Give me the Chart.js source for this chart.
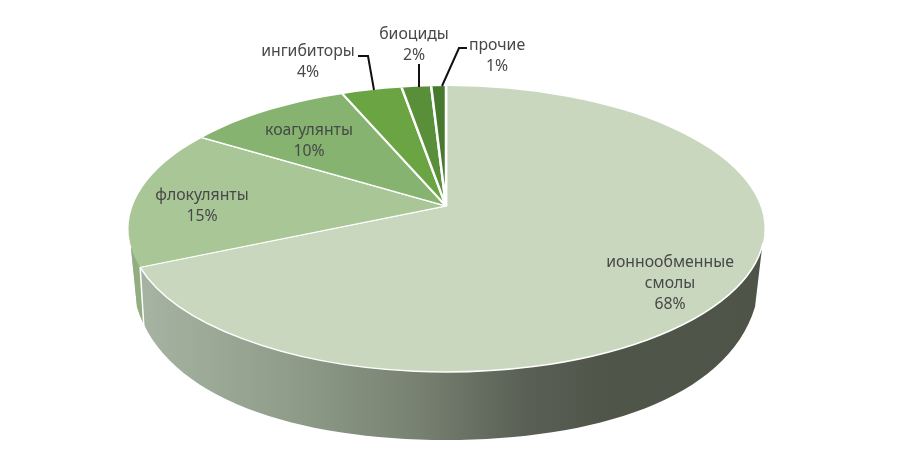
<!DOCTYPE html>
<html>
<head>
<meta charset="utf-8">
<style>
  html, body { margin: 0; padding: 0; background: #fff; }
  canvas { display: block; }
</style>
<script src="https://cdn.jsdelivr.net/npm/chart.js@4"></script>
</head>
<body>
<canvas id="pie" width="914" height="472"></canvas>
<script>
const categories = ['ионнообменные смолы', 'флокулянты', 'коагулянты', 'ингибиторы', 'биоциды', 'прочие'];
const shares = [68, 15, 10, 4, 2, 1];
const sliceColors = ['#c8d7bd', '#a9c697', '#86b36f', '#6ba543', '#5a8f3a', '#477a2e'];

// layout of the tilted disc, in page pixels
const apex = { x: 446, y: 206 };
const face = { x: 446.5, y: 229, rx: 318, ry: 143 };
const spread = 1.8;        // arcs are drawn oversize, the face ellipse trims them
const tiltBack = 0.51;     // vertical squash behind the apex
const tiltFront = 0.426;   // and in front of it (fake perspective)

// centre x, first baseline y of each label
const labelAnchors = [[670, 262], [202, 195], [309, 130], [308, 51], [414, 34], [497, 45]];
const labelLineGap = 21;
const leaders = [
  null, null, null,
  [[358, 56], [368, 56], [374, 90]],
  [[419, 64], [419, 87]],
  [[467, 48], [459, 48], [442, 86]]
];

function faceClip(ctx) {
  ctx.beginPath();
  ctx.ellipse(face.x, face.y, face.rx, face.ry, 0, 0, Math.PI * 2);
  ctx.clip();
}

// where a slice boundary (chart angle) hits the face outline
function rimPoint(angle, tilt) {
  const dx = Math.cos(angle) * spread;
  const dy = Math.sin(angle) * spread * tilt;
  const ox = (apex.x - face.x) / face.rx, oy = (apex.y - face.y) / face.ry;
  const ux = dx / face.rx, uy = dy / face.ry;
  const a = ux * ux + uy * uy, b = 2 * (ox * ux + oy * uy), c = ox * ox + oy * oy - 1;
  const t = (-b + Math.sqrt(b * b - 4 * a * c)) / (2 * a);
  return { x: apex.x + dx * t, y: apex.y + dy * t };
}

function wallPath(ctx) {
  ctx.beginPath();
  ctx.moveTo(131, 248);
  ctx.lineTo(137, 307);
  ctx.bezierCurveTo(165, 400, 300, 440, 446, 440);
  ctx.bezierCurveTo(592, 440, 727, 400, 755, 307);
  ctx.lineTo(762, 248);
  ctx.closePath();
}

function drawWall(chart) {
  const ctx = chart.ctx;
  const grad = ctx.createLinearGradient(130, 0, 764, 0);
  grad.addColorStop(0, '#a8b5a4');
  grad.addColorStop(0.25, '#8f9d8a');
  grad.addColorStop(0.45, '#788272');
  grad.addColorStop(0.62, '#5a6055');
  grad.addColorStop(0.75, '#50554a');
  grad.addColorStop(1, '#4f5449');
  wallPath(ctx);
  ctx.fillStyle = grad;
  ctx.fill();

  // the green slice shows a sliver of wall at the far left
  const arc = chart.getDatasetMeta(0).data[0];
  const edge = rimPoint(arc.endAngle, tiltFront);
  ctx.save();
  wallPath(ctx);
  ctx.clip();
  ctx.beginPath();
  ctx.moveTo(100, 230);
  ctx.lineTo(edge.x, 230);
  ctx.lineTo(edge.x, edge.y);
  ctx.lineTo(edge.x + 4, edge.y + 64);
  ctx.lineTo(100, edge.y + 64);
  ctx.closePath();
  ctx.fillStyle = '#91ae80';
  ctx.fill();
  ctx.restore();

  ctx.beginPath();
  ctx.moveTo(edge.x, edge.y);
  ctx.lineTo(edge.x + 4, edge.y + 64);
  ctx.strokeStyle = '#ffffff';
  ctx.lineWidth = 1.5;
  ctx.stroke();
  return edge;
}

function drawSlices(chart, clipY0, clipY1, tilt) {
  const ctx = chart.ctx;
  ctx.save();
  faceClip(ctx);
  ctx.beginPath();
  ctx.rect(0, clipY0, chart.width, clipY1 - clipY0);
  ctx.clip();
  const cx = chart.width / 2, cy = chart.height / 2;
  ctx.translate(apex.x, apex.y);
  ctx.scale(spread, spread * tilt);
  ctx.translate(-cx, -cy);
  chart.getDatasetMeta(0).controller.draw();
  ctx.restore();
}

function drawLabels(chart) {
  const ctx = chart.ctx;
  ctx.font = '15.8px "Noto Sans"';
  ctx.fillStyle = '#484848';
  ctx.textAlign = 'center';
  ctx.textBaseline = 'alphabetic';
  categories.forEach((name, i) => {
    const [x, y] = labelAnchors[i];
    const lines = name.split(' ').concat(shares[i] + '%');
    lines.forEach((line, n) => ctx.fillText(line, x, y + 5 + n * labelLineGap));
  });

  ctx.strokeStyle = '#111111';
  ctx.lineWidth = 2;
  leaders.forEach(points => {
    if (!points) return;
    ctx.beginPath();
    points.forEach(([x, y], n) => n ? ctx.lineTo(x, y) : ctx.moveTo(x, y));
    ctx.stroke();
  });
}

const tiltedPie = {
  id: 'tiltedPie',
  beforeDatasetsDraw(chart) {
    const ctx = chart.ctx;
    const edge = drawWall(chart);
    drawSlices(chart, 0, apex.y, tiltBack);
    drawSlices(chart, apex.y, chart.height, tiltFront);
    // white rim only along the front of the big slice
    const endParam = Math.atan2((edge.y - face.y) / face.ry, (edge.x - face.x) / face.rx);
    ctx.beginPath();
    ctx.ellipse(face.x, face.y, face.rx, face.ry, 0, 0.1, endParam);
    ctx.strokeStyle = '#ffffff';
    ctx.lineWidth = 1.5;
    ctx.stroke();
    drawLabels(chart);
    return false;
  }
};

new Chart(document.getElementById('pie'), {
  type: 'pie',
  data: {
    labels: categories,
    datasets: [{
      data: shares,
      backgroundColor: sliceColors,
      borderColor: '#ffffff',
      borderWidth: 1.4
    }]
  },
  options: {
    responsive: false,
    animation: false,
    devicePixelRatio: 1,
    layout: { padding: 0 },
    plugins: {
      legend: { display: false },
      tooltip: { enabled: false }
    }
  },
  plugins: [tiltedPie]
});
</script>
</body>
</html>
